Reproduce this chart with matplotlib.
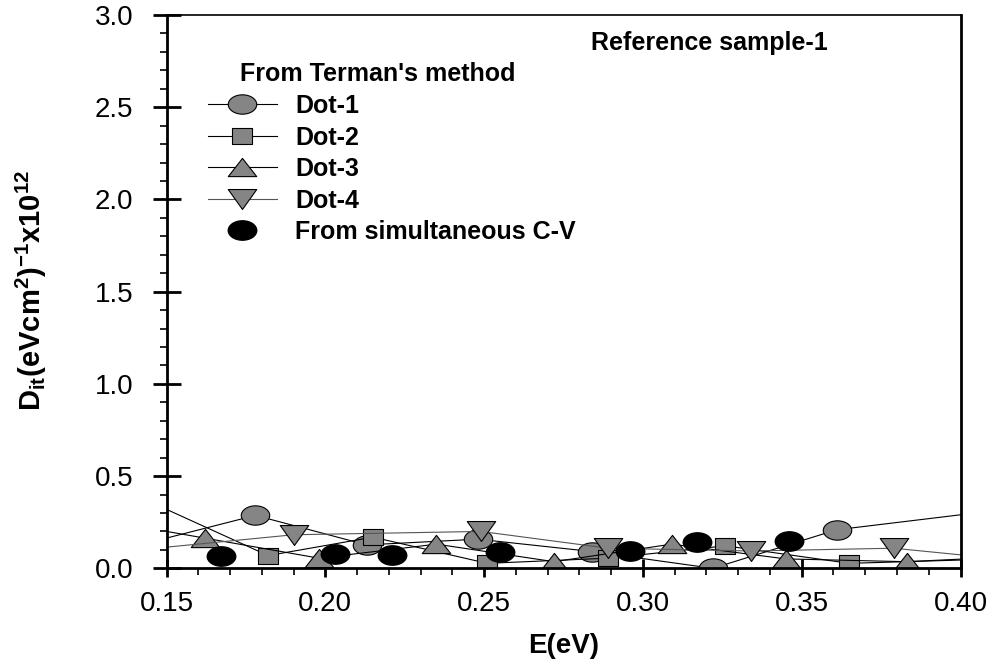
import numpy as np
import matplotlib.pyplot as plt
from matplotlib.path import Path
from matplotlib.transforms import Affine2D
from matplotlib.ticker import MultipleLocator, FormatStrFormatter

plt.rcParams['font.family'] = ['Liberation Sans', 'DejaVu Sans']
plt.rcParams['mathtext.fontset'] = 'custom'
plt.rcParams['mathtext.rm'] = 'Liberation Sans'
plt.rcParams['mathtext.bf'] = 'Liberation Sans:bold'

# Interface trap density, Terman's method (four dots), points outside 0.15-0.40 are clipped
dot1_E = [0.140, 0.178, 0.213, 0.248, 0.284, 0.322, 0.361, 0.410]
dot1_D = [0.120, 0.287, 0.127, 0.158, 0.091, 0.000, 0.209, 0.311]

dot2_E = [0.140, 0.182, 0.215, 0.251, 0.289, 0.326, 0.365, 0.410]
dot2_D = [0.398, 0.069, 0.169, 0.027, 0.055, 0.122, 0.027, 0.050]

dot3_E = [0.140, 0.162, 0.198, 0.235, 0.272, 0.309, 0.345, 0.383, 0.410]
dot3_D = [0.230, 0.164, 0.055, 0.131, 0.036, 0.131, 0.051, 0.036, 0.058]

dot4_E = [0.140, 0.190, 0.249, 0.289, 0.334, 0.379, 0.410]
dot4_D = [0.098, 0.182, 0.200, 0.109, 0.094, 0.109, 0.056]

# from simultaneous C-V
cv_E = [0.167, 0.203, 0.221, 0.255, 0.296, 0.317, 0.346]
cv_D = [0.069, 0.076, 0.073, 0.091, 0.096, 0.142, 0.149]


def squashed(path, sy):
    # flatten a marker path vertically
    return path.transformed(Affine2D().scale(1.0, sy))


ellipse = squashed(Path.unit_circle(), 0.68)
square = squashed(Path([(-1, -1), (1, -1), (1, 1), (-1, 1), (-1, -1)],
                       [1, 2, 2, 2, 79]), 0.75)
tri_up = squashed(Path([(0, 1), (-1, -1), (1, -1), (0, 1)], [1, 2, 2, 79]), 0.64)
tri_dn = squashed(Path([(0, -1), (-1, 1), (1, 1), (0, -1)], [1, 2, 2, 79]), 0.70)

grey = '#858585'

fig = plt.figure(figsize=(10.02, 6.63), dpi=100)
ax = fig.add_axes([0.1662, 0.1428, 0.7924, 0.8346])

kw = dict(color='black', lw=0.8, markerfacecolor=grey, markeredgecolor='black',
          markeredgewidth=0.8)
ax.plot(dot1_E, dot1_D, marker=ellipse, ms=20.5, label='Dot-1', **kw)
ax.plot(dot2_E, dot2_D, marker=square, ms=14.5, label='Dot-2', **kw)
ax.plot(dot3_E, dot3_D, marker=tri_up, ms=20.5, label='Dot-3', **kw)
kw['color'] = '#555555'
ax.plot(dot4_E, dot4_D, marker=tri_dn, ms=20.5, label='Dot-4', **kw)
ax.plot(cv_E, cv_D, ls='none', marker=ellipse, ms=20.5, color='black',
        label='From simultaneous C-V')

ax.set_xlim(0.15, 0.40)
ax.set_ylim(0.0, 3.0)
ax.xaxis.set_major_locator(MultipleLocator(0.05))
ax.xaxis.set_minor_locator(MultipleLocator(0.01))
ax.yaxis.set_major_locator(MultipleLocator(0.5))
ax.yaxis.set_minor_locator(MultipleLocator(0.1))
ax.xaxis.set_major_formatter(FormatStrFormatter('%.2f'))
ax.yaxis.set_major_formatter(FormatStrFormatter('%.1f'))

ax.tick_params(which='major', direction='inout', width=2, labelsize=20)
ax.tick_params(axis='y', which='major', length=20, pad=14)
ax.tick_params(axis='x', which='major', length=13, pad=10)
ax.tick_params(which='minor', direction='out', length=5, width=1.2)
ax.tick_params(top=False, right=False, which='both')

for side in ['left', 'bottom', 'right']:
    ax.spines[side].set_linewidth(2.0)
ax.spines['top'].set_linewidth(1.2)

ax.set_xlabel('E(eV)', fontsize=20, fontweight='bold')
ax.xaxis.set_label_coords(0.5, -0.140)
ax.xaxis.label.set_va('center')
ax.set_ylabel(r'$\mathbf{D_{it}(eVcm^{2})^{-1}x10^{12}}$', fontsize=21)
ax.yaxis.set_label_coords(-0.1705, 0.503)
ax.yaxis.label.set_va('center')

ax.text(0.535, 0.949, 'Reference sample-1', transform=ax.transAxes,
        fontsize=18, fontweight='bold', va='center', ha='left')
ax.text(0.0925, 0.893, "From Terman's method", transform=ax.transAxes,
        fontsize=18, fontweight='bold', va='center', ha='left')

leg = ax.legend(loc='upper left', bbox_to_anchor=(0.052, 0.857), frameon=False,
                prop={'weight': 'bold', 'size': 18}, handlelength=2.76,
                handletextpad=0.73, labelspacing=0.3, borderpad=0, borderaxespad=0)

fig.savefig('out.png', dpi=100)
